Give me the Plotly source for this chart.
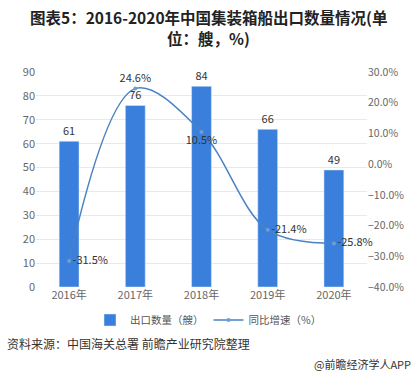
import plotly.graph_objects as go

years = ["2016年", "2017年", "2018年", "2019年", "2020年"]
export_qty = [61, 76, 84, 66, 49]
yoy_growth = [-31.5, 24.6, 10.5, -21.4, -25.8]
growth_labels = ["-31.5%", "24.6%", "10.5%", "-21.4%", "-25.8%"]
growth_label_pos = ["middle right", "top center", "bottom center", "middle right", "middle right"]

FONT = "Noto Sans CJK SC, Noto Sans, sans-serif"

fig = go.Figure()
fig.add_trace(go.Bar(
    x=years, y=export_qty, name="出口数量（艘）",
    marker=dict(color="#3a7fdc"),
    text=[str(v) for v in export_qty], textposition="outside",
    textfont=dict(size=11, color="#333333", family=FONT),
    cliponaxis=False,
))
fig.add_trace(go.Scatter(
    x=years, y=yoy_growth, name="同比增速（%）", yaxis="y2",
    mode="lines+markers+text",
    line=dict(color="#4a82c4", width=1.5, shape="spline", smoothing=1.0),
    marker=dict(size=4, color="#6a9fd8"),
    text=growth_labels, textposition=growth_label_pos,
    textfont=dict(size=11, color="#333333", family=FONT),
    cliponaxis=False,
))

fig.update_layout(
    width=417, height=378,
    margin=dict(l=36, r=50, t=72, b=91, autoexpand=False),
    paper_bgcolor="white", plot_bgcolor="white",
    font=dict(family=FONT, size=11, color="#666666"),
    bargap=0.7,
    showlegend=True,
    legend=dict(orientation="h", x=0.5, xanchor="center", xref="container",
                y=(378 - 320) / 378, yanchor="middle", yref="container",
                font=dict(size=10.5, color="#555555"),
                tracegroupgap=0, bgcolor="rgba(0,0,0,0)"),
    xaxis=dict(showline=False, ticks="", tickfont=dict(size=11, color="#666666")),
    yaxis=dict(range=[0, 90], dtick=10, showgrid=True, gridcolor="#e9e9e9",
               zeroline=False, showline=False, tickfont=dict(size=11, color="#666666")),
    yaxis2=dict(range=[-40, 30], dtick=10, overlaying="y", side="right",
                showgrid=False, zeroline=False, tickformat=".1f", ticksuffix="%",
                tickfont=dict(size=10.5, color="#666666")),
    annotations=[
        dict(text="<b>图表5：2016-2020年中国集装箱船出口数量情况(单</b>",
             xref="paper", yref="paper", x=0.52, y=1.0, yshift=72 - 17, xanchor="center",
             yanchor="middle", showarrow=False,
             font=dict(size=15.5, color="#222222", family=FONT)),
        dict(text="<b>位：艘，%)</b>",
             xref="paper", yref="paper", x=0.52, y=1.0, yshift=72 - 38, xanchor="center",
             yanchor="middle", showarrow=False,
             font=dict(size=15.5, color="#222222", family=FONT)),
        dict(text="资料来源：中国海关总署 前瞻产业研究院整理", xref="paper", yref="paper",
             x=0, xshift=-31, y=0, yshift=-56, xanchor="left", yanchor="middle",
             showarrow=False, font=dict(size=12, color="#333333", family=FONT)),
        dict(text="@前瞻经济学人APP", xref="paper", yref="paper",
             x=1, xshift=46, y=0, yshift=-77, xanchor="right", yanchor="middle",
             showarrow=False, font=dict(size=11, color="#333333", family=FONT)),
    ],
)

fig.write_html("out.html", config={"displayModeBar": False},
               post_script="document.body.style.margin='0';document.body.style.padding='0';")
